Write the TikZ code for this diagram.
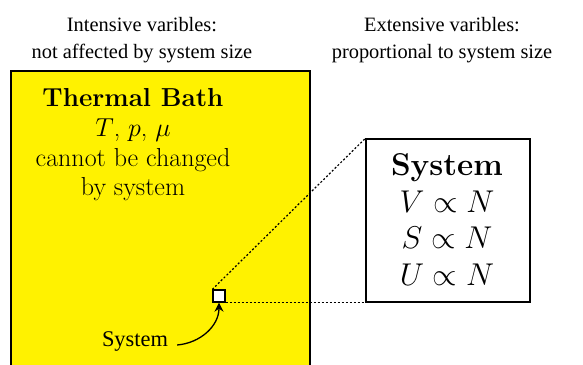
\RequirePackage{fix-cm}
\documentclass[tikz,border=0pt]{standalone}
\usepackage{fontspec}
\newfontfamily\tnr{Liberation Serif}
\usetikzlibrary{arrows.meta}
\tikzset{
  toplabel/.style={font=\tnr\fontsize{20.4}{27}\selectfont, align=center, inner sep=0pt},
  bathbox/.style={draw=black, fill=yellow, line width=1.3pt, minimum width=299pt, minimum height=299pt, inner sep=0pt},
  bathtext/.style={font=\fontsize{26}{29.7}\selectfont, align=center, inner sep=0pt},
  sysbox/.style={draw=black, fill=white, line width=1.3pt, minimum width=164pt, minimum height=163pt, inner sep=0pt},
  systext/.style={font=\fontsize{31.5}{36.7}\selectfont, align=center, inner sep=0pt},
  smallsq/.style={draw=black, fill=white, line width=1.3pt, minimum size=12pt, inner sep=0pt},
  zoomline/.style={line width=1.2pt, dash pattern=on 2pt off 2pt},
  lab/.style={font=\tnr\fontsize{22.4}{24}\selectfont, inner sep=0pt},
  pointer/.style={line width=1.3pt, -{Stealth[length=9pt,width=9pt,inset=3pt]}}
}
\begin{document}
\begin{tikzpicture}[x=1pt,y=-1pt]
\clip (0,0) rectangle (583,364);
\fill[white] (0,0) rectangle (583,364);
\node[toplabel] (intens) at (142,39.7) {Intensive varibles:\\not affected by system size};
\node[toplabel] (extens) at (442,39.7) {Extensive varibles:\\proportional to system size};
\node[bathbox] (bath) at (160.5,220.5) {};
\node[bathtext] (btext) at (133,145) {\textbf{Thermal Bath}\\$T$, $p$, $\mu$\\cannot be changed\\by system};
\node[sysbox] (box) at (448,220.5) {};
\node[systext] (stext) at (447,219.5) {\textbf{System}\\$V\propto N$\\$S\propto N$\\$U\propto N$};
\node[smallsq] (sq) at (219,296) {};
\draw[zoomline] (sq.north west) -- (box.north west);
\draw[zoomline] (sq.south east) -- (box.south west);
\node[lab] (slab) at (135,341) {System};
\coordinate (astart) at ([xshift=9pt,yshift=-4pt]slab.east);
\draw[pointer] (astart) to[out=5,in=-90] (sq.south);
\end{tikzpicture}
\end{document}
